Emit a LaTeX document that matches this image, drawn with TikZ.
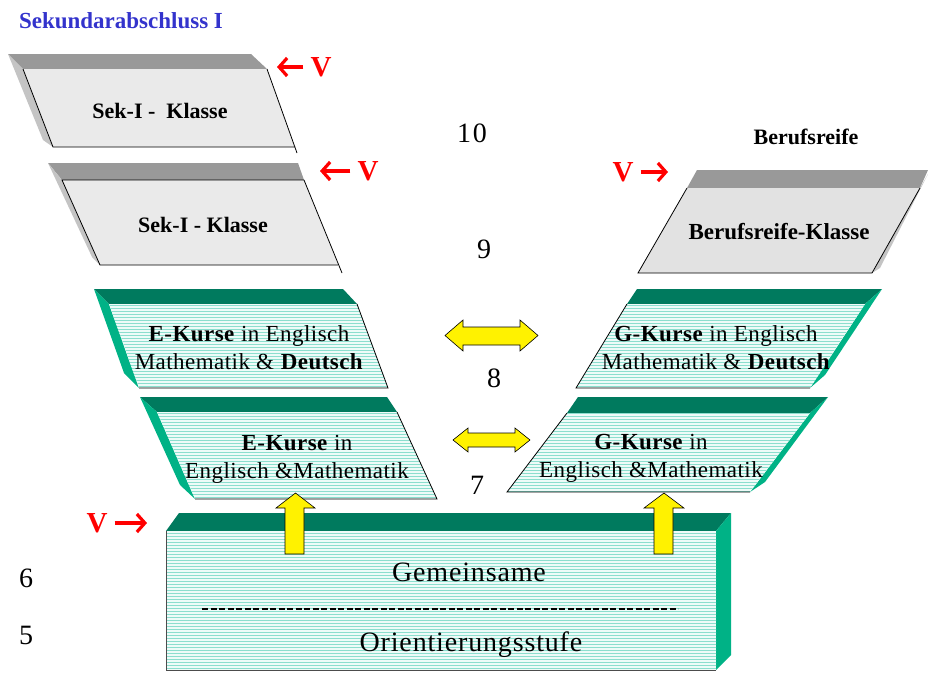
\documentclass[tikz,border=0pt]{standalone}
\usepackage{fontspec}
\setmainfont{Liberation Serif}
\usetikzlibrary{arrows.meta,patterns}
\definecolor{deepgreen}{RGB}{0,122,94}
\definecolor{sidegreen}{RGB}{0,178,134}
\definecolor{hatchbase}{RGB}{238,251,248}
\definecolor{hatchline}{RGB}{140,222,206}
\definecolor{stonegray}{RGB}{234,234,234}
\definecolor{marblegray}{RGB}{226,226,226}
\definecolor{slabgray}{RGB}{153,153,153}
\definecolor{edgegray}{RGB}{196,196,196}
\definecolor{titleblue}{RGB}{51,51,204}
\definecolor{vred}{RGB}{255,0,0}

\begin{document}
\begin{tikzpicture}[x=1pt, y=-1pt,
    stone/.style={fill=stonegray},
    marble/.style={fill=marblegray},
    slab/.style={fill=slabgray},
    slabside/.style={fill=edgegray},
    hatched/.style={preaction={fill=hatchbase}, pattern=horizontal lines, pattern color=hatchline},
    greentop/.style={fill=deepgreen},
    greenside/.style={fill=sidegreen},
    rim/.style={draw=black, line width=0.8pt},
    boxtext/.style={align=center, inner sep=0pt, font=\fontsize{23}{28}\selectfont\addfontfeature{LetterSpace=2}},
    bigtext/.style={inner sep=0pt, font=\fontsize{28}{32}\selectfont\addfontfeature{LetterSpace=3}},
    numtext/.style={inner sep=0pt, font=\fontsize{28}{32}\selectfont\addfontfeature{LetterSpace=6}},
    vmark/.style={inner sep=0pt, text=vred, font=\fontsize{29}{32}\selectfont\bfseries},
    redarrow/.style={draw=vred, line width=3.2pt, -{Straight Barb[length=8pt,width=18pt]}},
    yellowarrow/.style={fill=yellow, draw=black, line width=0.6pt}
]
    \useasboundingbox (0,0) rectangle (928,672);

    % Sek-I Klasse (10)
    \fill[slab] (8,54) -- (251,54) -- (267,69) -- (23,69) -- cycle;
    \fill[slabside] (8,54) -- (23,69) -- (53,147) -- (43,140) -- cycle;
    \fill[stone] (23,69) -- (267,69) -- (295,147) -- (53,147) -- cycle;
    \draw[rim] (23,69) -- (53,147) -- (295,147);
    \draw[rim] (267,69) -- (297,153);

    % Sek-I Klasse (9)
    \fill[slab] (48,163) -- (298,163) -- (304,180) -- (62,180) -- cycle;
    \fill[slabside] (48,163) -- (62,180) -- (100,265) -- (92,257) -- cycle;
    \fill[stone] (62,180) -- (304,180) -- (338,265) -- (100,265) -- cycle;
    \draw[rim] (304,180) -- (62,180) -- (100,265) -- (338,265);
    \draw[rim] (304,180) -- (342,273);

    % Berufsreife-Klasse
    \fill[slab] (697,170) -- (928,170) -- (920,188) -- (687,188) -- cycle;
    \fill[slabside] (920,188) -- (928,174) -- (880,268) -- (872,273) -- cycle;
    \fill[marble] (687,188) -- (920,188) -- (872,273) -- (638,273) -- cycle;
    \draw[rim] (687,188) -- (638,273) -- (872,273) -- (920,188);

    % E-Kurse (8)
    \fill[greentop] (94,289) -- (343,289) -- (357,304) -- (109,304) -- cycle;
    \fill[greenside] (94,289) -- (109,304) -- (139,388) -- (124,373) -- cycle;
    \fill[hatched] (109,304) -- (357,304) -- (388,388) -- (139,388) -- cycle;
    \draw[rim] (357,304) -- (388,388) -- (139,388);

    % E-Kurse (7)
    \fill[greentop] (140,397) -- (387,397) -- (397,412) -- (157,412) -- cycle;
    \fill[greenside] (140,397) -- (157,412) -- (195,499) -- (180,485) -- cycle;
    \fill[hatched] (157,412) -- (397,412) -- (437,499) -- (195,499) -- cycle;
    \draw[rim] (397,412) -- (437,499) -- (195,499);

    % G-Kurse (8)
    \fill[greentop] (637,289) -- (882,289) -- (865,304) -- (627,304) -- cycle;
    \fill[greenside] (865,304) -- (882,289) -- (825,375) -- (810,388) -- cycle;
    \fill[hatched] (627,304) -- (865,304) -- (810,388) -- (576,388) -- cycle;
    \draw[rim] (627,304) -- (576,388) -- (810,388);

    % G-Kurse (7)
    \fill[greentop] (578,397) -- (828,397) -- (810,413) -- (567,413) -- cycle;
    \fill[greenside] (810,413) -- (828,397) -- (765,482) -- (750,492) -- cycle;
    \fill[hatched] (567,413) -- (810,413) -- (750,492) -- (507,492) -- cycle;
    \draw[rim] (567,413) -- (507,492) -- (750,492);

    % Orientierungsstufe (5/6)
    \fill[greentop] (179,513) -- (731,513) -- (716,531) -- (166,531) -- cycle;
    \fill[greenside] (716,531) -- (731,513) -- (731,655) -- (716,670) -- cycle;
    \fill[hatched] (166,531) -- (716,531) -- (716,670) -- (166,670) -- cycle;
    \draw[black!70, line width=0.6pt] (166,531) -- (166,670) -- (716,670);

    % Nodes
    \node[font=\fontsize{23}{26}\selectfont\bfseries, text=titleblue, inner sep=0pt] (title) at (121,21) {Sekundarabschluss I};
    \node[boxtext, font=\fontsize{22}{28}\selectfont\bfseries] (sekA) at (160,111) {Sek-I -~ Klasse};
    \node[boxtext, font=\fontsize{22}{28}\selectfont\bfseries] (sekB) at (203,225) {Sek-I - Klasse};
    \node[font=\fontsize{22}{24}\selectfont\bfseries, inner sep=0pt] (beruf) at (806,137) {Berufsreife};
    \node[boxtext, font=\fontsize{23}{28}\selectfont\bfseries] (berufK) at (779,232) {Berufsreife-Klasse};
    \node[boxtext] (eA) at (249,348) {\textbf{E-Kurse} in Englisch\\Mathematik \& \textbf{Deutsch}};
    \node[boxtext] (eB) at (297,459) {\textbf{E-Kurse} in\\Englisch \&Mathematik};
    \node[boxtext] (gA) at (716,348) {\textbf{G-Kurse} in Englisch\\Mathematik \& \textbf{Deutsch}};
    \node[boxtext] (gB) at (651,458) {\textbf{G-Kurse} in\\Englisch \&Mathematik};
    \node[bigtext] (gem) at (469,572) {Gemeinsame};
    \node[bigtext] (orient) at (471,645) {Orientierungsstufe};

    \node[numtext] (n10) at (472,133) {10};
    \node[numtext] (n9) at (484,249) {9};
    \node[numtext] (n8) at (494,378) {8};
    \node[numtext] (n7) at (477,485) {7};
    \node[numtext] (n6) at (26,578) {6};
    \node[numtext] (n5) at (26,635) {5};

    \node[vmark] (vA) at (321,67) {V};
    \node[vmark] (vB) at (368,171) {V};
    \node[vmark] (vC) at (623,172) {V};
    \node[vmark] (vD) at (97,523) {V};
    \coordinate (vAtip) at (277,67);
    \coordinate (vBtip) at (320,171);
    \coordinate (vCtip) at (668,172);
    \coordinate (vDtip) at (147,523);

    % Paths
    \draw[redarrow, shorten <=7pt] (vA) -- (vAtip);
    \draw[redarrow, shorten <=7pt] (vB) -- (vBtip);
    \draw[redarrow, shorten <=7pt] (vC) -- (vCtip);
    \draw[redarrow, shorten <=7pt] (vD) -- (vDtip);

    \draw[black, line width=1.3pt, dash pattern=on 6pt off 2.5pt] (202,609) -- (678,609);

    \draw[yellowarrow] (445,335.5) -- (463,320) -- (463,327) -- (520,327) -- (520,320) -- (538,335.5)
        -- (520,351) -- (520,345) -- (463,345) -- (463,351) -- cycle;
    \draw[yellowarrow] (453,440) -- (468,428) -- (468,433) -- (515,433) -- (515,428) -- (530,440)
        -- (515,452) -- (515,447) -- (468,447) -- (468,452) -- cycle;
    \draw[yellowarrow] (295.5,493) -- (315,508) -- (304,508) -- (304,554) -- (285,554) -- (285,508) -- (276,508) -- cycle;
    \draw[yellowarrow] (664,493) -- (684,508) -- (673,508) -- (673,554) -- (654,554) -- (654,508) -- (644,508) -- cycle;
\end{tikzpicture}
\end{document}
